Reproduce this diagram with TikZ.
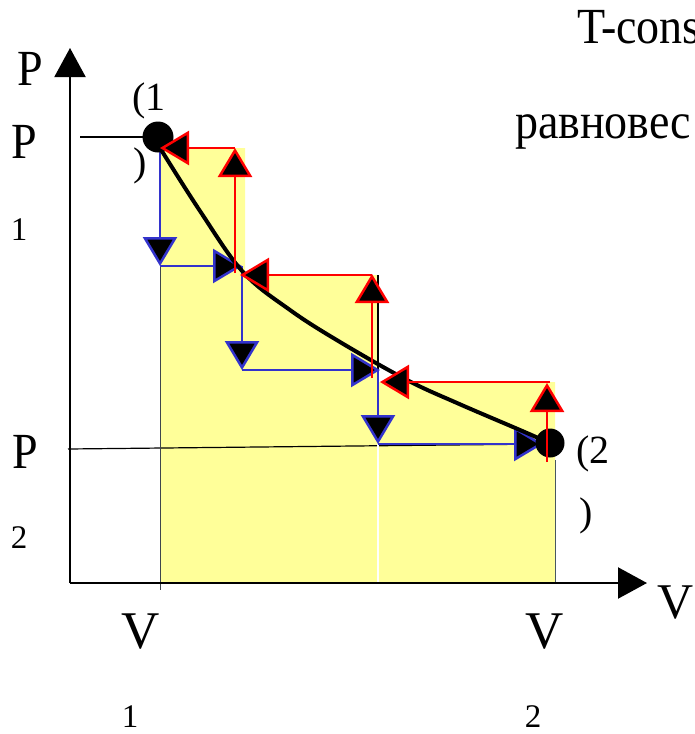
\documentclass[tikz,border=0pt]{standalone}
\usepackage{fontspec}
\setmainfont{Liberation Serif}
\usetikzlibrary{arrows.meta}
\definecolor{myred}{RGB}{255,0,0}
\definecolor{myblue}{RGB}{51,51,204}
\definecolor{myyellow}{RGB}{255,255,153}
\newcommand{\fs}[1]{\fontsize{#1}{#1}\selectfont}
\newcommand{\stx}[1]{\scalebox{1}[1.1]{#1}}
\begin{document}
\begin{tikzpicture}[x=1pt,y=-1pt,
  lbl/.style={inner sep=0pt, anchor=base},
  big/.style={lbl, font=\fs{46}},
  vl/.style={lbl, font=\fs{53}},
  sub/.style={lbl, font=\fs{33}},
  par/.style={lbl, font=\fs{40}},
  thinline/.style={line width=1.2pt},
  bluearr/.style={myblue, line width=2.5pt, -{Triangle[length=29pt,width=34pt,fill=black]}},
  redarr/.style={myred, line width=2.5pt, -{Triangle[length=29pt,width=34pt,fill=black]}},
  axisline/.style={line width=2pt, -{Triangle[length=29pt,width=31pt]}},
  dot/.style={circle, fill=black, inner sep=0pt}
]
\useasboundingbox (0,0) rectangle (694,734);
\clip (0,0) rectangle (694,734);

% yellow work area
\fill[myyellow] (160,583) -- (160,148) -- (245,148) -- (245,275) -- (378,275) -- (378,382) -- (555,382) -- (555,583) -- cycle;

% coordinates
\coordinate (o) at (70,583);
\coordinate (ytip) at (70,48);
\coordinate (xtip) at (647,583);
\coordinate (p1l) at (80,137);
\coordinate (p1r) at (143,137);
\coordinate (p2l) at (68,449);
\coordinate (p2r) at (545,444);
\coordinate (p1) at (160,148);
\coordinate (b1) at (160,266);
\coordinate (b2) at (242,266);
\coordinate (b3) at (242,370);
\coordinate (b4) at (380,370);
\coordinate (b4a) at (378,370);
\coordinate (b5) at (378,444);
\coordinate (p2) at (543,444);
\coordinate (v1t) at (160,266);
\coordinate (v1b) at (160,590);
\coordinate (m1) at (378,275);
\coordinate (m3) at (378,583);
\coordinate (v2t) at (555,460);
\coordinate (v2b) at (555,583);
\coordinate (ra) at (547,462);
\coordinate (rb) at (547,383);
\coordinate (rb2) at (550,382);
\coordinate (rc) at (380,382);
\coordinate (rd) at (372,378);
\coordinate (re) at (372,274);
\coordinate (re2) at (372,275);
\coordinate (rf) at (240,275);
\coordinate (rg) at (235,273);
\coordinate (rh) at (235,148);
\coordinate (rh2) at (235,148);

% thin guide lines
\draw[thinline] (p1l) -- (p1r);
\draw[thinline] (p2l) -- (p2r);
\draw[line width=1pt, black!80!cyan] (v1t) -- (v1b);
\draw[thinline] (m1) -- (b4a);
\draw[line width=1.2pt, white] (b5) -- (m3);
\draw[line width=1pt, black!70!cyan] (v2t) -- (v2b);

% axes
\draw[axisline] (o) -- (ytip);
\draw[axisline, line width=2.2pt] (o) -- (xtip);

% blue steps
\draw[bluearr] (p1) -- (b1);
\draw[bluearr] (b1) -- (b2);
\draw[bluearr] (b2) -- (b3);
\draw[bluearr] (b3) -- (b4);
\draw[bluearr] (b4a) -- (b5);
\draw[bluearr] (b5) -- (p2);

% isotherm
\draw[line width=4pt] plot[smooth, tension=0.6] coordinates {(160,148) (200,211) (243,272) (290,310) (340,342) (407,380) (457,403) (520,430) (545,441)};

% states
\node[dot, minimum size=29pt] (d2) at (550,443) {};
\node[dot, minimum size=31pt] (d1) at (158,137) {};

% red steps
\draw[redarr] (ra) -- (rb);
\draw[redarr] (rb2) -- (rc);
\draw[redarr] (rd) -- (re);
\draw[redarr] (re2) -- (rf);
\draw[redarr] (rg) -- (rh);
\draw[redarr] (rh2) -- (p1);

% labels
\node[big] (Plab) at (30,85) {\stx{P}};
\node[big] (P1) at (24,158) {\stx{P}};
\node[sub] (P1s) at (19,240) {1};
\node[big] (P2) at (25,468) {\stx{P}};
\node[sub] (P2s) at (19,548) {2};
\node[vl] (V1) at (141,648) {V};
\node[sub] (V1s) at (130,727) {1};
\node[vl] (V2) at (545,648) {V};
\node[sub] (V2s) at (533,727) {2};
\node[lbl, font=\fs{50}, anchor=base west] (Vlab) at (657,618) {V};
\node[par, anchor=base west] (l1a) at (132,110) {(1};
\node[par] (l1b) at (140,175) {)};
\node[par, anchor=base west] (l2a) at (576,463) {(2};
\node[par] (l2b) at (586,525) {)};
\node[big, anchor=base west] (t1) at (577,43) {\stx{T-cons}};
\node[big, anchor=base west] (t2) at (515,138) {\stx{равновес}};
\end{tikzpicture}
\end{document}
